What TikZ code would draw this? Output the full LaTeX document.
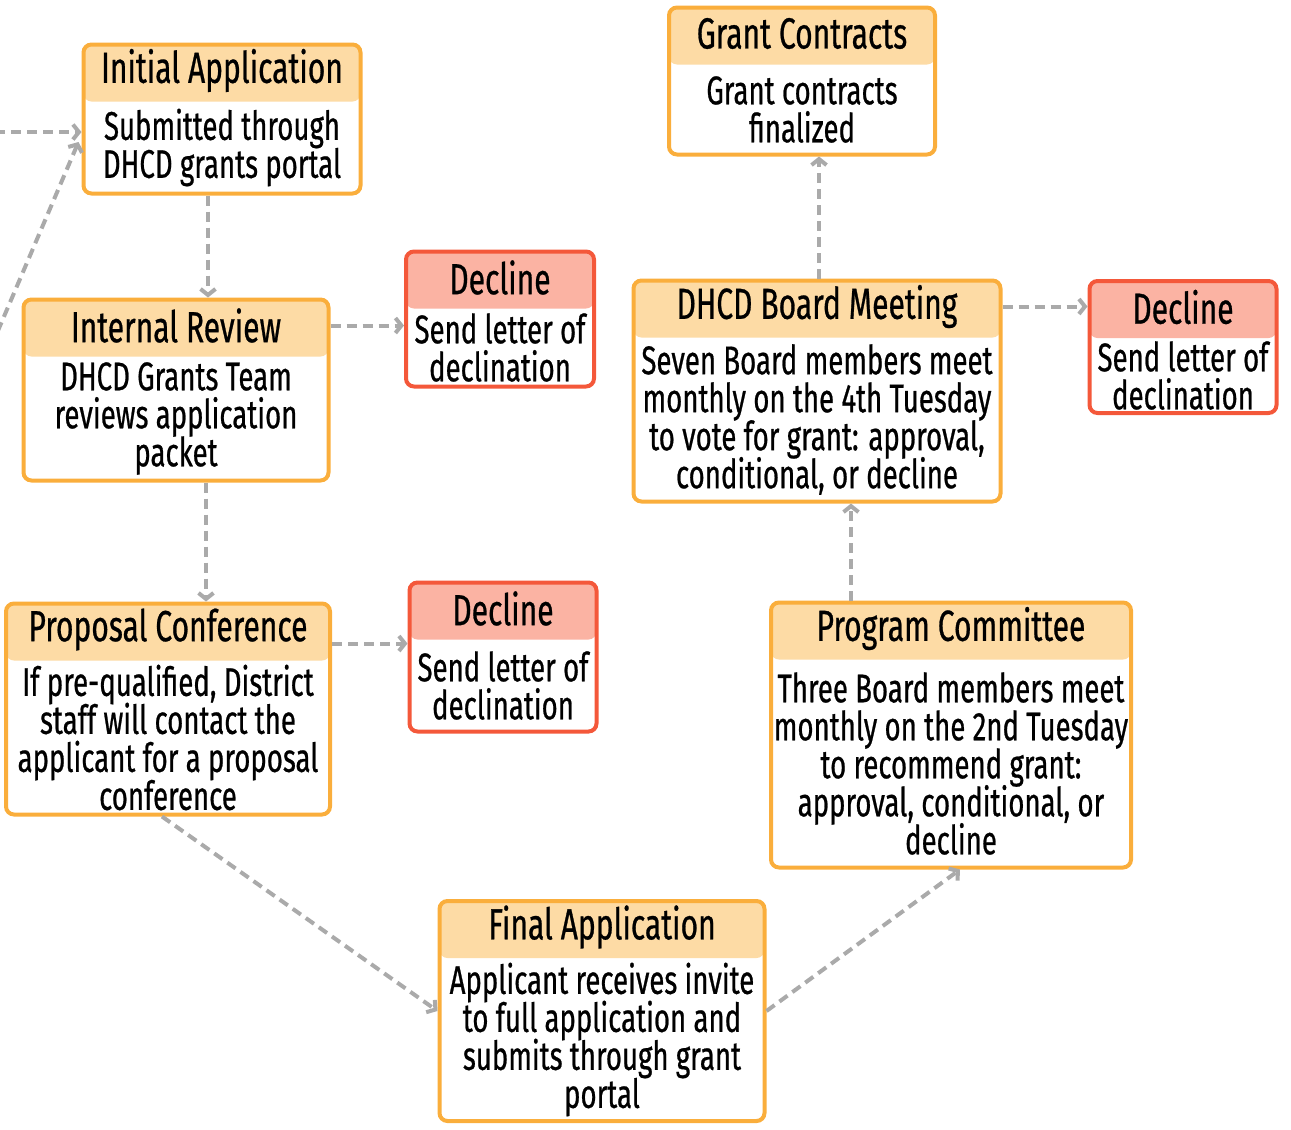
\documentclass[tikz,border=0pt]{standalone}
\usepackage{fontspec}
\setmainfont[FakeStretch=0.69, FakeBold=0.6]{Fira Sans}
\usetikzlibrary{arrows.meta, calc, positioning}
\definecolor{cardline}{HTML}{FAAE3C}
\definecolor{cardhead}{HTML}{FDDBA5}
\definecolor{declline}{HTML}{F4583A}
\definecolor{declhead}{HTML}{FBB3A3}
\definecolor{flowgray}{HTML}{AAAAAA}
\tikzset{
    card/.style ={draw=cardline, line width=4pt, rounded corners=8pt, fill=white, inner sep=0pt,
        path picture={\fill[#1] (path picture bounding box.north west) rectangle ([yshift=-57pt]path picture bounding box.north east);}},
    card/.default = cardhead,
    declcard/.style ={card=declhead, draw=declline},
    title/.style = {inner sep=0pt, font=\fontsize{43.5}{40}\selectfont},
    body/.style = {inner sep=0pt, align=center, font={\fontsize{40}{38}\selectfont\lineskiplimit -20pt\relax}},
    flow/.style = {draw=flowgray, line width=4pt, dash pattern=on 10pt off 6pt, -{Straight Barb[length=6pt,width=15pt]}}
}
\begin{document}
\begin{tikzpicture}[x=1pt, y=-1pt]
  \useasboundingbox (0,0) rectangle (1291,1130);

  % boxes
  \node[card, minimum width=277, minimum height=149] (init) at (222,119) {};
  \node[title] (init-h) at ([yshift=-28pt]init.north) {Initial Application};
  \node[body] (init-b) at ($(init.south)!0.5!([yshift=-57pt]init.north)$) {Submitted through\\DHCD grants portal};

  \node[card, minimum width=305, minimum height=181] (internal) at (176,390) {};
  \node[title] (internal-h) at ([yshift=-28pt]internal.north) {Internal Review};
  \node[body] (internal-b) at ($(internal.south)!0.5!([yshift=-57pt]internal.north)$) {DHCD Grants Team\\reviews application\\packet};

  \node[declcard, minimum width=188, minimum height=135] (dec1) at (500,319) {};
  \node[title] (dec1-h) at ([yshift=-28pt]dec1.north) {Decline};
  \node[body] (dec1-b) at ($(dec1.south)!0.5!([yshift=-57pt]dec1.north)$) {Send letter of\\declination};

  \node[card, minimum width=324, minimum height=211] (proposal) at (168,709) {};
  \node[title] (proposal-h) at ([yshift=-28pt]proposal.north) {Proposal Conference};
  \node[body] (proposal-b) at ($(proposal.south)!0.5!([yshift=-57pt]proposal.north)$) {If pre-qualified, District\\staff will contact the\\applicant for a proposal\\conference};

  \node[declcard, minimum width=187, minimum height=149] (dec2) at (503,657) {};
  \node[title] (dec2-h) at ([yshift=-28pt]dec2.north) {Decline};
  \node[body] (dec2-b) at ($(dec2.south)!0.5!([yshift=-57pt]dec2.north)$) {Send letter of\\declination};

  \node[card, minimum width=325, minimum height=220] (final) at (602,1011) {};
  \node[title] (final-h) at ([yshift=-28pt]final.north) {Final Application};
  \node[body] (final-b) at ($(final.south)!0.5!([yshift=-57pt]final.north)$) {Applicant receives invite\\to full application and\\submits through grant\\portal};

  \node[card, minimum width=360, minimum height=265] (program) at (951,735) {};
  \node[title] (program-h) at ([yshift=-28pt]program.north) {Program Committee};
  \node[body] (program-b) at ($(program.south)!0.5!([yshift=-57pt]program.north)$) {Three Board members meet\\monthly on the 2nd Tuesday\\to recommend grant:\\approval, conditional, or\\decline};

  \node[card, minimum width=367, minimum height=221] (board) at (817,391) {};
  \node[title] (board-h) at ([yshift=-28pt]board.north) {DHCD Board Meeting};
  \node[body] (board-b) at ($(board.south)!0.5!([yshift=-57pt]board.north)$) {Seven Board members meet\\monthly on the 4th Tuesday\\to vote for grant: approval,\\conditional, or decline};

  \node[declcard, minimum width=187, minimum height=132] (dec3) at (1183,347) {};
  \node[title] (dec3-h) at ([yshift=-28pt]dec3.north) {Decline};
  \node[body] (dec3-b) at ($(dec3.south)!0.5!([yshift=-57pt]dec3.north)$) {Send letter of\\declination};

  \node[card, minimum width=266, minimum height=147] (grant) at (802,81) {};
  \node[title] (grant-h) at ([yshift=-28pt]grant.north) {Grant Contracts};
  \node[body] (grant-b) at ($(grant.south)!0.5!([yshift=-57pt]grant.north)$) {Grant contracts\\finalized};

  % connectors
  \coordinate (in1) at (-5,132);
  \coordinate (in2) at (-15,361);
  \draw[flow] (in1) -- (init.west |- in1);
  \draw[flow] (in2) -- ([xshift=-3pt,yshift=-23pt]init.west);
  \draw[flow] ([xshift=-14pt]init.south) -- ([xshift=-14pt]init.south |- internal.north);
  \draw[flow] (internal.east |- internal-h) -- (dec1.west |- internal-h);
  \draw[flow] ([xshift=30pt]internal.south) -- ([xshift=30pt]internal.south |- proposal.north);
  \draw[flow] ($(proposal.north east)+(0,42)$) -- (dec2.west |- {$(proposal.north east)+(0,42)$});
  \draw[flow] ([xshift=-6pt]proposal.south) -- (final.west);
  \draw[flow] (final.east) -- ([xshift=9pt]program.south);
  \draw[flow] ([xshift=-100pt]program.north) -- ([xshift=-100pt]program.north |- board.south);
  \draw[flow] ([xshift=2pt]board.north) -- ([xshift=2pt]board.north |- grant.south);
  \draw[flow] (board.east |- board-h) -- (dec3.west |- board-h);
\end{tikzpicture}
\end{document}
